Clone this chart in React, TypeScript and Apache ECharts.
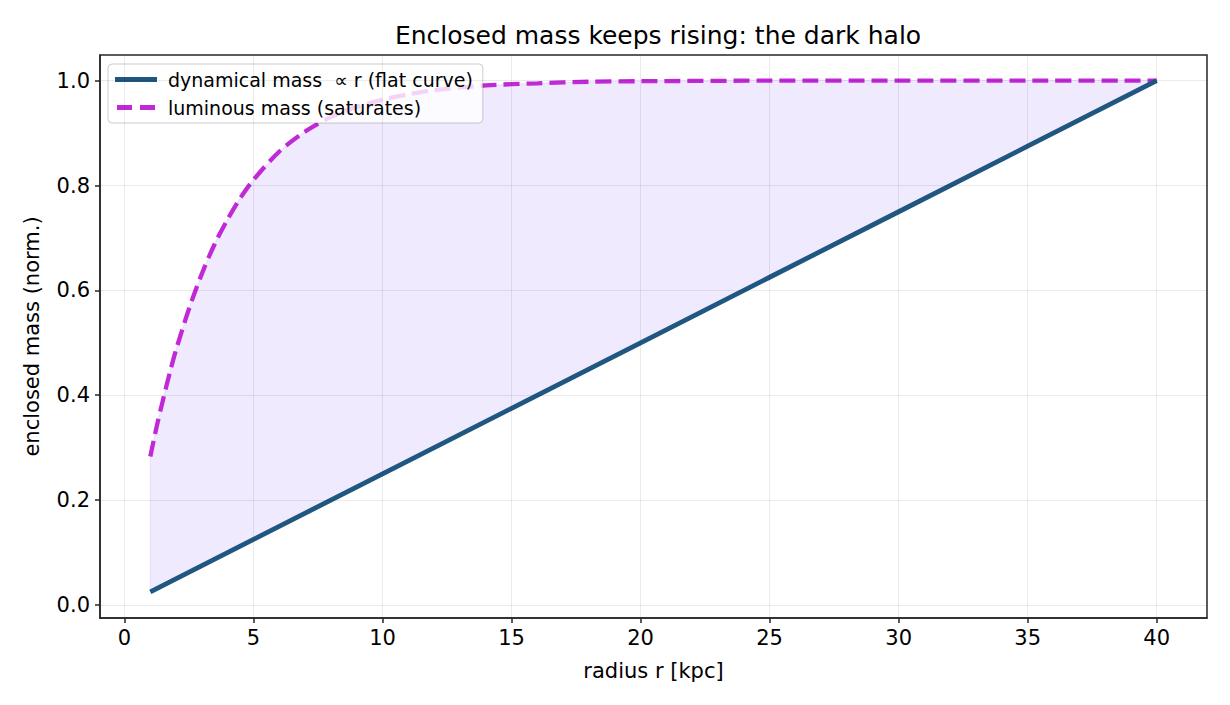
import React, { useEffect, useRef } from "react";
import * as echarts from "echarts";

const titleText = "Enclosed mass keeps rising: the dark halo";
const xName = "radius r [kpc]";
const yName = "enclosed mass (norm.)";
const dynName = "dynamical mass  \u221d r (flat curve)";
const lumName = "luminous mass (saturates)";

const xTicks = [0, 5, 10, 15, 20, 25, 30, 35, 40];
const yTicks = [0, 0.2, 0.4, 0.6, 0.8, 1.0];

const dynR = [1, 5, 10, 15, 20, 25, 30, 35, 40];
const dynM = [0.025, 0.125, 0.25, 0.375, 0.5, 0.625, 0.75, 0.875, 1.0];

const lumR = [1, 1.25, 1.5, 1.75, 2, 2.5, 3, 3.5, 4, 4.5, 5, 6, 7, 8, 9, 10, 11, 12, 14, 16, 18, 20, 25, 30, 35, 40];
const lumM = [0.283, 0.341, 0.393, 0.442, 0.487, 0.565, 0.632, 0.689, 0.736, 0.777, 0.811, 0.865, 0.903, 0.931, 0.95, 0.964, 0.974, 0.982, 0.991, 0.995, 0.998, 0.999, 1.0, 1.0, 1.0, 1.0];

const FONT = "'DejaVu Sans', 'Noto Sans', sans-serif";
const BLUE = "#1f5780";
const MAGENTA = "#c128d6";

export default function App() {
  const ref = useRef<HTMLDivElement>(null);
  useEffect(() => {
    document.body.style.margin = "0";
    const chart = echarts.init(ref.current!, null, { renderer: "svg" });
    const dynData = dynR.map((r, i) => [r, dynM[i]]);
    const lumData = lumR.map((r, i) => [r, lumM[i]]);
    const gridColor = "rgba(0,0,0,0.08)";
    const option: any = {
      animation: false,
      backgroundColor: "#ffffff",
      title: {
        text: titleText,
        left: 653,
        textAlign: "center",
        top: 18,
        textStyle: { fontFamily: FONT, fontSize: 25, fontWeight: "normal", color: "#000" },
      },
      grid: { left: 100, top: 55, width: 1107, height: 563, show: true, borderColor: "#262626", borderWidth: 1.5, backgroundColor: "transparent" },
      legend: {
        left: 108,
        top: 64,
        orient: "vertical",
        itemWidth: 42,
        itemHeight: 5,
        itemGap: 9,
        padding: [6, 10, 6, 7],
        backgroundColor: "rgba(255,255,255,0.8)",
        borderColor: "rgba(0,0,0,0.2)",
        borderWidth: 1,
        borderRadius: 4,
        textStyle: { fontFamily: FONT, fontSize: 19, color: "#000", padding: [0, 0, 0, 6] },
        data: [
          { name: dynName, icon: "path://M0,0H42V5H0Z", itemStyle: { color: BLUE } },
          { name: lumName, icon: "path://M0,0H15V5H0Z M23,0H38V5H23Z", itemStyle: { color: MAGENTA } },
        ],
      },
      xAxis: {
        type: "value",
        min: -0.95,
        max: 41.95,
        name: xName,
        nameLocation: "middle",
        nameGap: 42,
        nameTextStyle: { fontFamily: FONT, fontSize: 21, color: "#000" },
        axisLine: { show: true, onZero: false, lineStyle: { color: "#262626", width: 1.5 } },
        axisTick: { show: true, length: 5, customValues: xTicks, lineStyle: { color: "#262626", width: 1.5 } },
        axisLabel: { customValues: xTicks, margin: 9, fontFamily: FONT, fontSize: 21, color: "#000", formatter: (v: number) => String(v) },
        splitLine: { show: false },
      },
      yAxis: {
        type: "value",
        min: -0.025,
        max: 1.049,
        name: yName,
        nameLocation: "middle",
        nameGap: 58,
        nameRotate: 90,
        nameTextStyle: { fontFamily: FONT, fontSize: 21, color: "#000" },
        axisLine: { show: true, onZero: false, lineStyle: { color: "#262626", width: 1.5 } },
        axisTick: { show: true, length: 5, customValues: yTicks, lineStyle: { color: "#262626", width: 1.5 } },
        axisLabel: { customValues: yTicks, margin: 10, fontFamily: FONT, fontSize: 21, color: "#000", formatter: (v: number) => v.toFixed(1) },
        splitLine: { show: false },
      },
      series: [
        {
          name: "grid",
          type: "line",
          data: [],
          silent: true,
          z: 0,
          markLine: {
            silent: true,
            symbol: "none",
            label: { show: false },
            lineStyle: { color: gridColor, width: 1, type: "solid" },
            data: [
              ...xTicks.map((v) => ({ xAxis: v })),
              ...yTicks.map((v) => ({ yAxis: v })),
            ],
          },
        },
        {
          name: "fill",
          type: "custom",
          silent: true,
          z: 1,
          data: [[1, 0.5]],
          renderItem: (params: any, api: any) => {
            const pts: number[][] = [];
            lumData.forEach((p) => pts.push(api.coord(p)));
            for (let i = dynData.length - 1; i >= 0; i--) pts.push(api.coord(dynData[i]));
            return {
              type: "polygon",
              shape: { points: pts },
              style: { fill: "rgba(167,139,250,0.18)", stroke: "rgba(167,139,250,0.22)", lineWidth: 1 },
            };
          },
        },
        {
          name: dynName,
          type: "line",
          data: dynData,
          showSymbol: false,
          symbol: "none",
          z: 3,
          color: BLUE,
          lineStyle: { color: BLUE, width: 4.8 },
        },
        {
          name: lumName,
          type: "line",
          data: lumData,
          showSymbol: false,
          symbol: "none",
          smooth: 0.3,
          z: 2,
          color: MAGENTA,
          lineStyle: { color: MAGENTA, width: 4.3, type: [16, 7] },
        },
      ],
    };
    chart.setOption(option);
    return () => chart.dispose();
  }, []);
  return <div ref={ref} style={{ width: 1230, height: 705 }} />;
}
